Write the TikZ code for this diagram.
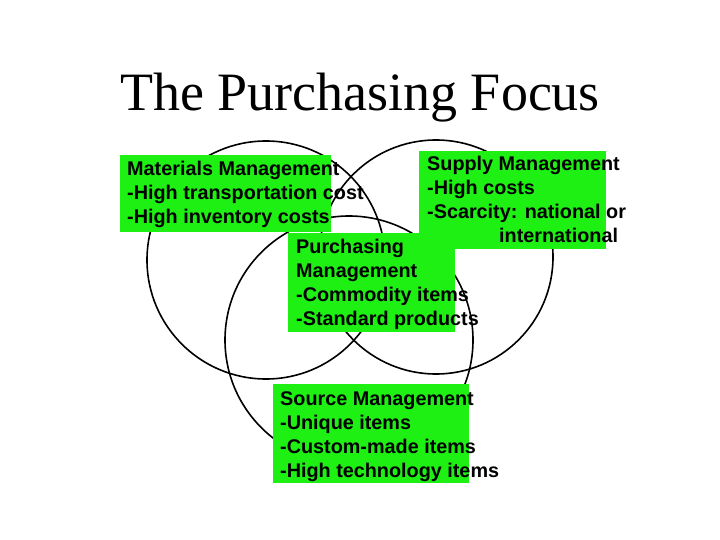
\documentclass[tikz,border=0pt]{standalone}
\usepackage{fontspec}
\setmainfont{Liberation Sans}
\newfontfamily\titlefont{Liberation Serif}
\definecolor{lime}{RGB}{30,240,20}
\begin{document}
\begin{tikzpicture}[x=1pt,y=-1pt,
  ring/.style={draw=black,line width=1.6pt},
  gbox/.style={fill=lime},
  txt/.style={anchor=north west,align=left,inner sep=0pt,font=\bfseries\fontsize{19.8}{24}\selectfont}]
\useasboundingbox[fill=white] (0,0) rectangle (720,540);
\node[font=\titlefont\fontsize{54}{60}\selectfont] (title) at (360,98) {The Purchasing Focus};
\draw[ring] (266,260) circle (119);
\draw[ring] (436,257) circle (117);
\draw[ring] (349,340) circle (124);
\fill[gbox] (120,155) rectangle (331,232);
\node[txt] (mm) at (127,161) {Materials Management\\-High transportation cost\\-High inventory costs};
\fill[gbox] (419,151) rectangle (606,249);
\node[txt] (sm) at (427,156) {Supply Management\\-High costs\\-Scarcity: national or\\\hspace{72pt}international};
\fill[gbox] (288,233) rectangle (455,332);
\node[txt] (pm) at (296,239) {Purchasing\\Management\\-Commodity items\\-Standard products};
\fill[gbox] (273,384) rectangle (469,483);
\node[txt] (src) at (280,391) {Source Management\\-Unique items\\-Custom-made items\\-High technology items};
\end{tikzpicture}
\end{document}
